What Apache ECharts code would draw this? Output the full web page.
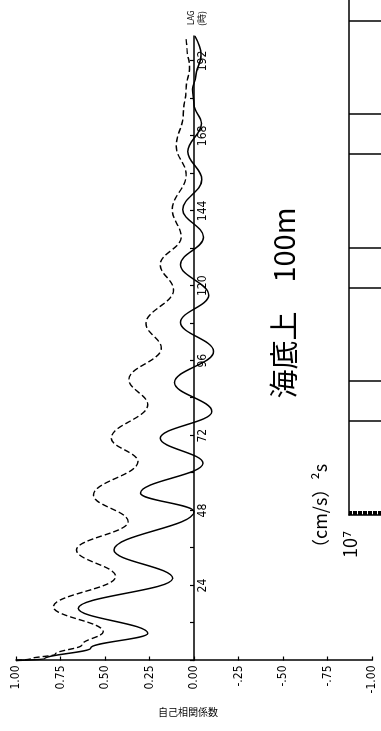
<!DOCTYPE html>
<html><head><meta charset="utf-8">
<script src="https://cdn.jsdelivr.net/npm/echarts@6.0.0/dist/echarts.min.js"></script>
<style>
html,body{margin:0;padding:0;width:381px;height:731px;overflow:hidden;background:#fff;}
#chart{position:absolute;left:0;top:0;width:731px;height:381px;transform-origin:0 0;transform:translate(0,731px) rotate(-90deg);}
</style></head><body><div id="chart"></div>
<script>
// Autocorrelation (solid) : lag (hours) and coefficient
const lagSolid = [0, 0.5, 4, 8.7, 16.7, 26.3, 35.4, 47.7, 53.6, 63.2, 71.2, 79.7, 89, 99, 108.3, 117, 126.8, 135.6, 144.4, 154, 163, 172, 178, 183, 187, 194, 200];
const acfSolid = [1.00, 0.84, 0.58, 0.26, 0.65, 0.12, 0.45, 0.00, 0.30, -0.05, 0.19, -0.10, 0.11, -0.11, 0.076, -0.083, 0.076, -0.053, 0.063, -0.044, 0.035, -0.042, 0.0, 0.008, -0.01, -0.04, -0.005];
// Autocorrelation (dashed)
const lagDashed = [0, 0.5, 2, 5, 9.2, 17.2, 26.9, 35.4, 44.5, 53, 63.7, 71.2, 81.9, 90, 100, 107.9, 118.7, 126.8, 135.6, 144.4, 155.6, 164.7, 175, 183, 190, 196, 199];
const acfDashed = [1.00, 0.92, 0.78, 0.63, 0.51, 0.79, 0.44, 0.66, 0.37, 0.565, 0.315, 0.465, 0.26, 0.366, 0.184, 0.27, 0.115, 0.19, 0.072, 0.122, 0.044, 0.10, 0.06, 0.045, 0.025, 0.04, 0.044];
// Tick labels
const valueTickLabels = ['-1.00', '-.75', '-.50', '-.25', '0.00', '0.25', '0.50', '0.75', '1.00'];
const lagLabelStep = 24;
// Neighbouring spectrum panel (log frequency grid lines)
const spectrumGridLines = [5, 10, 50, 100, 500, 1000, 5000];
const spectrumMax = 7200;

const narrow = "'Liberation Sans Narrow','DejaVu Sans Condensed',sans-serif";
const jp = "'Noto Sans CJK JP','DejaVu Sans',sans-serif";

const gridH = 356;
const chart = echarts.init(document.getElementById('chart'), null, {renderer: 'canvas', width: 731, height: 381});
const option = {
  animation: false,
  backgroundColor: '#fff',
  grid: [
    {left: 70.5, top: 16, width: 624.5, height: gridH},
    {left: 216, top: 349, width: 515, height: 200}
  ],
  xAxis: [
    {type: 'value', gridIndex: 0, min: 0, max: 200, interval: 12, position: 'bottom', offset: -gridH / 2,
      axisLine: {onZero: false, lineStyle: {color: '#000', width: 1.5}},
      axisTick: {inside: true, length: 4, lineStyle: {color: '#000', width: 1.2}},
      axisLabel: {margin: 3, color: '#000', fontFamily: narrow, fontSize: 12, showMaxLabel: false,
        formatter: v => (v > 0 && v % lagLabelStep === 0) ? String(v) : ''},
      splitLine: {show: false}},
    {type: 'value', gridIndex: 1, min: 0, max: Math.log10(spectrumMax), position: 'top',
      axisLine: {show: true, onZero: false, lineStyle: {color: '#000', width: 1.5}},
      axisTick: {show: false}, axisLabel: {show: false}, splitLine: {show: false}}
  ],
  yAxis: [
    {type: 'value', gridIndex: 0, min: -1, max: 1, interval: 0.25,
      axisLine: {show: true, onZero: false, lineStyle: {color: '#000', width: 1.5}},
      axisTick: {show: true, inside: true, length: 4, lineStyle: {color: '#000', width: 1.2}},
      axisLabel: {margin: 5, color: '#000', fontFamily: narrow, fontSize: 12,
        formatter: v => valueTickLabels[Math.round((v + 1) / 0.25)]},
      splitLine: {show: false}},
    {type: 'value', gridIndex: 1, min: 0, max: 40, interval: 1, inverse: true,
      axisLine: {show: true, onZero: false, lineStyle: {color: '#000', width: 1.5}},
      axisTick: {show: true, inside: true, length: 4, lineStyle: {color: '#000', width: 1}},
      axisLabel: {show: false}, splitLine: {show: false}}
  ],
  series: [
    {type: 'line', xAxisIndex: 0, yAxisIndex: 0, showSymbol: false, smooth: 0.4, smoothMonotone: 'x',
      lineStyle: {color: '#000', width: 1.5},
      data: lagSolid.map((l, i) => [l, acfSolid[i]])},
    {type: 'line', xAxisIndex: 0, yAxisIndex: 0, showSymbol: false, smooth: 0.4, smoothMonotone: 'x',
      lineStyle: {color: '#000', width: 1.4, type: [6, 3]},
      data: lagDashed.map((l, i) => [l, acfDashed[i]])},
    {type: 'line', xAxisIndex: 1, yAxisIndex: 1, showSymbol: false, lineStyle: {width: 0},
      data: [[0, 0]], silent: true,
      markLine: {symbol: 'none', silent: true, label: {show: false},
        lineStyle: {color: '#000', type: 'solid', width: 1.5},
        data: spectrumGridLines.map(v => ({xAxis: Math.log10(v)}))}}
  ],
  graphic: [
    {type: 'text', x: 706, y: 192, style: {text: 'LAG', fill: '#000', fontSize: 8, fontFamily: narrow, align: 'left', verticalAlign: 'middle'}},
    {type: 'text', x: 705, y: 202, style: {text: '(時)', fill: '#000', fontSize: 9, fontFamily: jp, align: 'left', verticalAlign: 'middle'}},
    {type: 'text', x: 19, y: 188, rotation: -Math.PI / 2, style: {text: '自己相関係数', fill: '#000', fontSize: 10, fontFamily: jp, align: 'center', verticalAlign: 'middle'}},
    {type: 'text', x: 428, y: 284, style: {text: '海底上　100m', fill: '#000', fontSize: 29, fontFamily: jp, align: 'center', verticalAlign: 'middle'}},
    {type: 'text', x: 174, y: 320, style: {text: '（cm/s）²s', fill: '#000', fontSize: 18, fontFamily: jp, align: 'left', verticalAlign: 'middle'}},
    {type: 'text', x: 173, y: 350, style: {text: '10⁷', fill: '#000', fontSize: 18, fontFamily: jp, align: 'left', verticalAlign: 'middle'}}
  ]
};
chart.setOption(option);
</script>
</body></html>
